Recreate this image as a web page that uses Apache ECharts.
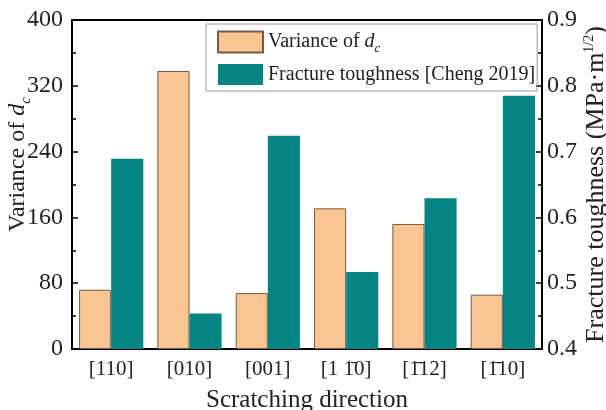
<!DOCTYPE html>
<html>
<head>
<meta charset="utf-8">
<script src="https://cdn.jsdelivr.net/npm/echarts@6/dist/echarts.min.js"></script>
<style>
  html, body { margin: 0; padding: 0; background: #fff; }
  #chart { width: 606px; height: 410px; }
</style>
</head>
<body>
<div id="chart"></div>
<script>
// scratching directions (overbar via combining macron)
const categories = ['[110]', '[010]', '[001]', '[1 1\u03040]', '[1\u030412]', '[1\u030410]']
const varianceDc = [72, 338, 68, 171, 152, 66]
const fractureToughness = [0.689, 0.454, 0.724, 0.517, 0.629, 0.785]
const leftTicks = [0, 80, 160, 240, 320, 400]
const rightTicks = [0.4, 0.5, 0.6, 0.7, 0.8, 0.9]

const FONT = 'Liberation Serif'
const ORANGE = '#F9C590'
const TEAL = '#068383'

const chart = echarts.init(document.getElementById('chart'))

const axisLine = { show: true, lineStyle: { color: '#000', width: 2 } }
const labelStyle = { fontFamily: FONT, fontSize: 24, color: '#222' }

const option = {
  animation: false,
  grid: {
    left: 72, right: 64, top: 20, bottom: 61,
    outerBoundsMode: 'none',
    show: true, borderColor: '#000', borderWidth: 2
  },
  legend: {
    orient: 'vertical',
    left: 206, top: 24,
    padding: [5, 2, 6, 11],
    itemWidth: 45, itemHeight: 21, itemGap: 9,
    icon: 'rect',
    borderColor: '#999', borderWidth: 1,
    data: ['Variance of dc', 'Fracture toughness [Cheng 2019]'],
    formatter: (name) => name === 'Variance of dc' ? '{t|Variance of }{i|d}{s|c}' : '{t|' + name + '}',
    textStyle: {
      fontFamily: FONT, fontSize: 20, color: '#222', lineHeight: 21,
      rich: {
        t: { fontFamily: FONT, fontSize: 20, color: '#222', lineHeight: 21 },
        i: { fontFamily: FONT, fontSize: 20, fontStyle: 'italic', color: '#222', lineHeight: 21 },
        s: { fontFamily: FONT, fontSize: 13, fontStyle: 'italic', color: '#222', verticalAlign: 'bottom', lineHeight: 26 }
      }
    }
  },
  xAxis: {
    type: 'category',
    data: categories,
    axisLine,
    axisTick: { show: false },
    axisLabel: { ...labelStyle, fontSize: 21, margin: 10, interval: 0 },
    name: 'Scratching direction',
    nameLocation: 'middle',
    nameGap: 39,
    nameMoveOverlap: false,
    nameTextStyle: { ...labelStyle, fontSize: 25 }
  },
  yAxis: [
    {
      type: 'value',
      min: leftTicks[0], max: leftTicks[leftTicks.length - 1], interval: 80,
      axisLine,
      axisTick: { show: true, inside: true, length: 6, lineStyle: { color: '#000', width: 1.5 } },
      minorTick: { show: true, splitNumber: 2, length: 4, lineStyle: { color: '#000', width: 1.5 } },
      splitLine: { show: false },
      axisLabel: { ...labelStyle, margin: 9 },
      name: 'Variance of {i|d}{s|c}',
      nameLocation: 'middle',
      nameGap: 38,
      nameMoveOverlap: false,
      nameTextStyle: {
        ...labelStyle, fontSize: 24, padding: [0, 0, 0, 40],
        rich: {
          i: { fontFamily: FONT, fontSize: 24, fontStyle: 'italic', color: '#222', lineHeight: 27 },
          s: { fontFamily: FONT, fontSize: 15, fontStyle: 'italic', color: '#222', verticalAlign: 'bottom', lineHeight: 33 }
        }
      }
    },
    {
      type: 'value',
      min: rightTicks[0], max: rightTicks[rightTicks.length - 1], interval: 0.1,
      axisLine,
      axisTick: { show: true, inside: true, length: 6, lineStyle: { color: '#000', width: 1.5 } },
      minorTick: { show: true, splitNumber: 2, length: 4, lineStyle: { color: '#000', width: 1.5 } },
      splitLine: { show: false },
      axisLabel: { ...labelStyle, margin: 5, formatter: (v) => v.toFixed(1) },
      name: 'Fracture toughness (MPa\u00b7m{sup|1/2})',
      nameLocation: 'middle',
      nameGap: 40,
      nameRotate: 90,
      nameMoveOverlap: false,
      nameTextStyle: {
        ...labelStyle, fontSize: 26, lineHeight: 28,
        rich: {
          sup: { fontFamily: FONT, fontSize: 14, color: '#222', verticalAlign: 'top', lineHeight: 28 }
        }
      }
    }
  ],
  series: [
    {
      name: 'Variance of dc',
      type: 'bar',
      yAxisIndex: 0,
      barGap: '0%',
      barCategoryGap: '18%',
      itemStyle: { color: ORANGE, borderColor: '#7a5a44', borderWidth: 1 },
      data: varianceDc
    },
    {
      name: 'Fracture toughness [Cheng 2019]',
      type: 'bar',
      yAxisIndex: 1,
      barGap: '0%',
      barCategoryGap: '18%',
      itemStyle: { color: TEAL },
      data: fractureToughness
    }
  ]
}

chart.setOption(option)
window.addEventListener('resize', () => chart.resize())
</script>
</body>
</html>
